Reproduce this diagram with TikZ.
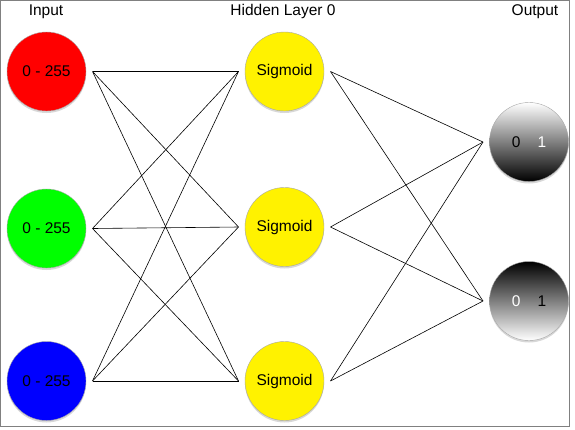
\documentclass[tikz,border=0pt]{standalone}
\usepackage{fontspec}
\setmainfont{Liberation Sans}
\usepackage{xcolor}
\usepackage{tikz}
\usetikzlibrary{shadows}

\begin{document}
\begin{tikzpicture}[x=1pt, y=1pt,
        neuronnode0/.style={circle, draw=black!35, thin, minimum size=79pt, inner sep=0pt, outer sep=6.5pt, font=\fontsize{15.5}{18}\selectfont, drop shadow={shadow xshift=0pt, shadow yshift=-2pt, opacity=0.3}},
        innode1/.style={neuronnode0},
        hidnode1/.style={neuronnode0, fill=yellow},
        outnode1/.style={neuronnode0},
        titlenode1/.style={anchor=base, inner sep=0pt, font=\fontsize{15.5}{18}\selectfont},
    ]
    \useasboundingbox (0,0) rectangle (575,-429);
    \fill[white] (0,0) rectangle (575,-429);
    \draw[black!50, line width=1.2pt] (0.6,-0.6) rectangle (569.4,-426.4);
    %Titles
    \node[titlenode1]  (inputnode)  at (46,-15) {Input};
    \node[titlenode1]  (hiddennode)  at (283,-15) {Hidden Layer 0};
    \node[titlenode1]  (outputnode)  at (535,-15) {Output};
    %Nodes
    \node[innode1, fill=red]  (rednode)  at (46.5,-71.5) {0 - 255};
    \node[innode1, fill=green]  (greennode)  at (46.5,-228.5) {0 - 255};
    \node[innode1, fill=blue]  (bluenode)  at (46.5,-381) {0 - 255};
    \node[hidnode1]  (sig1node)  at (284.5,-71.5) {Sigmoid};
    \node[hidnode1]  (sig2node)  at (284.5,-227) {Sigmoid};
    \node[hidnode1]  (sig3node)  at (284.5,-381) {Sigmoid};
    \node[outnode1, top color=white, bottom color=black]  (out1node)  at (529,-142) {\color{black}0\hspace{17pt}\color{white}1};
    \node[outnode1, top color=black, bottom color=white]  (out2node)  at (529,-301) {\color{white}0\hspace{17pt}\color{black}1};
    %Lines
    \draw[-, line width=0.6pt] (rednode.east) -- (sig1node.west);
    \draw[-, line width=0.6pt] (rednode.east) -- (sig2node.west);
    \draw[-, line width=0.6pt] (rednode.east) -- (sig3node.west);
    \draw[-, line width=0.6pt] (greennode.east) -- (sig1node.west);
    \draw[-, line width=0.6pt] (greennode.east) -- (sig2node.west);
    \draw[-, line width=0.6pt] (greennode.east) -- (sig3node.west);
    \draw[-, line width=0.6pt] (bluenode.east) -- (sig1node.west);
    \draw[-, line width=0.6pt] (bluenode.east) -- (sig2node.west);
    \draw[-, line width=0.6pt] (bluenode.east) -- (sig3node.west);
    \draw[-, line width=0.6pt] (sig1node.east) -- (out1node.west);
    \draw[-, line width=0.6pt] (sig1node.east) -- (out2node.west);
    \draw[-, line width=0.6pt] (sig2node.east) -- (out1node.west);
    \draw[-, line width=0.6pt] (sig2node.east) -- (out2node.west);
    \draw[-, line width=0.6pt] (sig3node.east) -- (out1node.west);
    \draw[-, line width=0.6pt] (sig3node.east) -- (out2node.west);
\end{tikzpicture}
\end{document}
